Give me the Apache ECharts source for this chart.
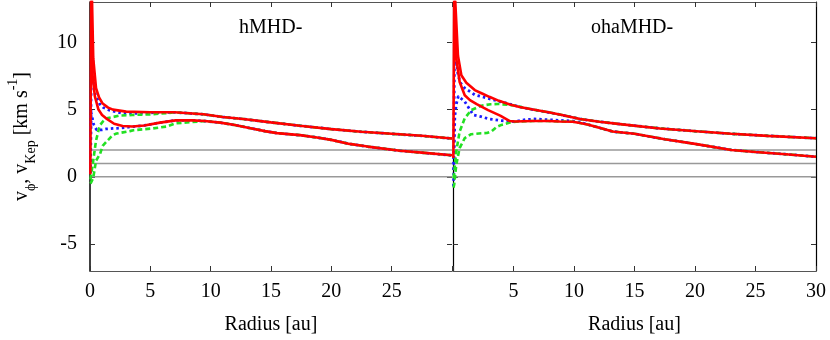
<!DOCTYPE html>
<html><head><meta charset="utf-8">
<script src="https://cdn.jsdelivr.net/npm/echarts@6/dist/echarts.min.js"></script>
<style>html,body{margin:0;padding:0;background:#fff}#c{width:830px;height:340px}</style>
</head><body><div id="c"></div>
<script>
// ---- data (radius [au], velocity [km/s]) ----
const panelTitles = ['hMHD-', 'ohaMHD-'];
const xTicks = [0, 5, 10, 15, 20, 25, 30];
const yTicks = [-5, 0, 5, 10];
const refLevels = [0, 1, 2];

// left panel (hMHD-)
const redL_upper = [[0.12,14],[0.17,13],[0.27,8.8],[0.5,6.6],[0.75,5.9],[1.05,5.45],[1.5,5.15],[1.9,5.0],[3,4.85],[5,4.8],[7,4.8],[9.4,4.65],[11,4.45],[12.7,4.3],[15,4.05],[17.4,3.8],[20,3.55],[22.5,3.35],[25,3.2],[27.5,3.05],[30,2.85]];
const redL_lower = [[0.03,0.2],[0.1,14],[0.15,10.5],[0.22,7.5],[0.4,6.0],[0.7,5.0],[1.0,4.6],[1.33,4.35],[2,3.95],[2.7,3.78],[3.5,3.74],[4.5,3.82],[5.8,4.03],[7.1,4.2],[8.5,4.2],[9.5,4.15],[10.8,4.03],[12,3.85],[13.3,3.62],[14.5,3.4],[15.5,3.25],[17.4,3.1],[18.8,2.93],[20,2.75],[21.5,2.45],[23,2.25],[25.7,1.94],[27.5,1.8],[30,1.6]];
const blueL_upper_head = [[0.04,0.3],[0.12,9.6],[0.22,9.0],[0.3,7.5],[0.44,6.07],[0.77,5.46],[1.1,5.15],[1.6,4.96],[2.7,4.72],[4,4.72],[5.5,4.78]];
const blueL_lower_head = [[0.04,0.3],[0.08,4.8],[0.14,4.6],[0.3,3.9],[0.55,3.49],[1,3.5],[1.33,3.56],[1.9,3.6],[2.4,3.62],[3.6,3.74]];
const greenL_upper_head = [[0.04,-0.2],[0.22,0.9],[0.5,2.7],[0.8,3.8],[1.05,4.1],[1.38,4.35],[2.43,4.55],[3.5,4.6],[5.2,4.65],[6.5,4.75]];
const greenL_lower_head = [[0.04,-0.5],[0.27,-0.07],[0.5,1.2],[0.83,1.7],[1.05,2.3],[1.38,2.63],[1.88,3.1],[2.2,3.22],[3.3,3.4],[3.6,3.47],[5.2,3.6],[6.35,3.74],[7.1,3.98],[9.1,4.12]];

// right panel (ohaMHD-)
const redR_upper = [[0.12,14],[0.19,13],[0.41,9.0],[0.69,7.55],[1.1,7.0],[1.8,6.45],[2.4,6.2],[3.0,5.95],[3.8,5.65],[4.7,5.38],[5.5,5.2],[6.5,5.02],[8,4.78],[9,4.6],[10.5,4.3],[12.1,4.1],[14,3.9],[17.1,3.6],[20.4,3.37],[23,3.2],[26,3.05],[30,2.87]];
const redR_lower = [[0.03,1.4],[0.1,14],[0.27,8.8],[0.55,7.05],[0.97,6.07],[1.4,5.7],[1.96,5.4],[2.9,4.96],[3.9,4.55],[4.7,4.15],[5.1,4.12],[6.6,4.15],[7.85,4.15],[8.8,4.12],[9.9,4.1],[10.5,4.0],[11.2,3.88],[12.1,3.65],[13.2,3.37],[15,3.2],[17.5,2.8],[20,2.45],[23,2.0],[25,1.85],[27.5,1.68],[30,1.5]];
const blueR_upper_head = [[0.05,0.5],[0.12,8.6],[0.3,8.5],[0.41,7.6],[0.6,7.0],[0.97,6.6],[1.8,6.1],[2.9,5.83],[3.9,5.6],[4.5,5.46],[5.5,5.2]];
const blueR_lower_head = [[0.04,-0.7],[0.15,4.5],[0.27,5.4],[0.44,6.0],[0.6,5.95],[0.97,5.6],[1.5,4.85],[1.7,4.6],[2.34,4.47],[3.0,4.3],[3.8,4.2],[5.1,4.1],[6.0,4.25],[6.75,4.3],[8.8,4.2],[9.9,4.15],[10.5,4.05]];
const greenR_upper_head = [[0.05,-0.1],[0.27,1.9],[0.55,3.37],[0.97,4.35],[1.5,4.96],[2.34,5.29],[3.1,5.4],[3.72,5.42],[4.5,5.36],[5.1,5.3],[6.5,5.02]];
const greenR_lower_head = [[0.04,-0.8],[0.1,-0.57],[0.27,0.9],[0.55,2.14],[0.97,2.88],[1.5,3.17],[2.34,3.24],[2.8,3.26],[3.17,3.37],[3.6,3.7],[4.0,3.86],[4.8,4.06],[5.5,4.12],[6.6,4.15]];

// ---- build ----
function withTail(head, red) {
  const last = head[head.length - 1][0];
  return head.concat(red.filter(p => p[0] > last));
}
const FONT = 'Liberation Serif';
const FS = 20;
const grids = [
  {left: 90, top: 2, width: 362, height: 272},
  {left: 453, top: 2, width: 363, height: 272}
];
const boxColor = '#555';

function xAx(gi, pos, hideVal) {
  const bottom = pos === 'bottom';
  return {
    type: 'value', gridIndex: gi, position: pos, min: 0, max: 30, interval: 5,
    axisLine: {show: true, onZero: false, lineStyle: {color: boxColor, width: 1.2}},
    axisTick: {show: true, inside: true, length: 5, lineStyle: {color: '#333', width: 1}},
    axisLabel: {show: bottom, margin: 11, fontFamily: FONT, fontSize: FS, color: '#000',
      formatter: v => (v === hideVal ? '' : String(v))},
    splitLine: {show: false},
    name: bottom ? 'Radius [au]' : '', nameLocation: 'middle', nameGap: 44,
    nameTextStyle: {fontFamily: FONT, fontSize: FS, color: '#000'}
  };
}
function yAx(gi, pos, labels, name, lineColor, lw) {
  return {
    type: 'value', gridIndex: gi, position: pos, min: -7, max: 13,
    axisLine: {show: true, onZero: false, lineStyle: {color: lineColor, width: lw}},
    axisTick: {show: true, inside: true, length: 5, customValues: yTicks, lineStyle: {color: '#333', width: 1}},
    axisLabel: {show: labels, customValues: yTicks, margin: 13, fontFamily: FONT, fontSize: FS, color: '#000'},
    splitLine: {show: false},
    name: name ? '{n|v}{s|ϕ}{n|, v}{s|Kep}{n| [km s}{p|-1}{n|]}' : '',
    nameLocation: 'middle', nameRotate: 90, nameGap: 52,
    nameTextStyle: {
      fontFamily: FONT, fontSize: FS, color: '#000',
      rich: {
        n: {fontFamily: FONT, fontSize: FS, color: '#000', lineHeight: 32, verticalAlign: 'middle'},
        s: {fontFamily: FONT, fontSize: 14, color: '#000', lineHeight: 32, verticalAlign: 'bottom'},
        p: {fontFamily: FONT, fontSize: 14, color: '#000', lineHeight: 32, verticalAlign: 'top'}
      }
    }
  };
}

const xAxes = [xAx(0, 'bottom', 30), xAx(0, 'top', null), xAx(1, 'bottom', 0), xAx(1, 'top', null)];
const yAxes = [yAx(0, 'left', true, true, '#000', 1.5), yAx(0, 'right', false, false, '#000', 0),
               yAx(1, 'left', false, false, '#000', 1.2), yAx(1, 'right', false, false, '#000', 1.2)];

const series = [];
function addLine(gi, data, color, type, width) {
  series.push({
    type: 'line', xAxisIndex: gi * 2, yAxisIndex: gi * 2, data: data, showSymbol: false,
    symbol: 'none', smooth: false, clip: true, silent: true, animation: false,
    lineStyle: {color: color, width: width, type: type, cap: 'butt'}
  });
}
const panels = [
  {red: [redL_upper, redL_lower], blue: [blueL_upper_head, blueL_lower_head], green: [greenL_upper_head, greenL_lower_head]},
  {red: [redR_upper, redR_lower], blue: [blueR_upper_head, blueR_lower_head], green: [greenR_upper_head, greenR_lower_head]}
];
panels.forEach((p, gi) => {
  refLevels.forEach(l => addLine(gi, [[0, l], [30, l]], '#999', 'solid', 1.5));
  addLine(gi, withTail(p.blue[0], p.red[0]), '#1a1aff', [2.5, 3], 2.8);
  addLine(gi, withTail(p.blue[1], p.red[1]), '#1a1aff', [2.5, 3], 2.8);
  addLine(gi, withTail(p.green[0], p.red[0]), '#22e022', [5, 3], 2.6);
  addLine(gi, withTail(p.green[1], p.red[1]), '#22e022', [5, 3], 2.6);
  addLine(gi, p.red[0], '#ff0000', 'solid', 2.6);
  addLine(gi, p.red[1], '#ff0000', 'solid', 2.6);
});

const chart = echarts.init(document.getElementById('c'), null, {renderer: 'canvas'});
chart.setOption({
  animation: false,
  backgroundColor: '#fff',
  grid: grids,
  xAxis: xAxes,
  yAxis: yAxes,
  title: [
    {text: panelTitles[0], left: 234, top: 13, padding: 5, textStyle: {fontFamily: FONT, fontSize: FS, fontWeight: 'normal', color: '#000'}},
    {text: panelTitles[1], left: 586, top: 13, padding: 5, textStyle: {fontFamily: FONT, fontSize: FS, fontWeight: 'normal', color: '#000'}}
  ],
  series: series
});
</script>
</body></html>
